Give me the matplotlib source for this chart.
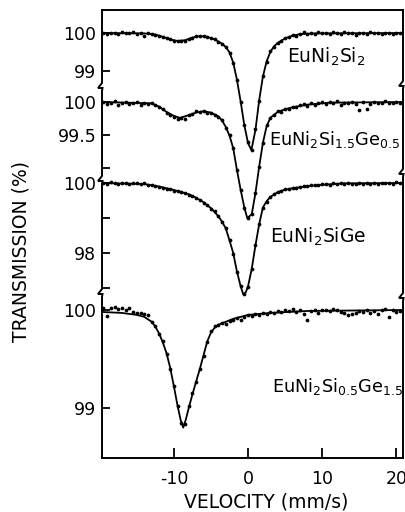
import numpy as np
import matplotlib.pyplot as plt
from matplotlib.transforms import blended_transform_factory

# velocity channels (mm/s) of the measured points
velocity = [-19.5, -19.0, -18.5, -18.0, -17.5, -17.0, -16.5, -16.0, -15.5, -15.0,
            -14.5, -14.0, -13.5, -13.0, -12.5, -12.0, -11.5, -11.0, -10.5, -10.0,
            -9.5, -9.0, -8.5, -8.0, -7.5, -7.0, -6.5, -6.0, -5.5, -5.0,
            -4.5, -4.0, -3.5, -3.0, -2.5, -2.0, -1.5, -1.0, -0.5, 0.0,
            0.5, 1.0, 1.5, 2.0, 2.5, 3.0, 3.5, 4.0, 4.5, 5.0,
            5.5, 6.0, 6.5, 7.0, 7.5, 8.0, 8.5, 9.0, 9.5, 10.0,
            10.5, 11.0, 11.5, 12.0, 12.5, 13.0, 13.5, 14.0, 14.5, 15.0,
            15.5, 16.0, 16.5, 17.0, 17.5, 18.0, 18.5, 19.0, 19.5, 20.0,
            20.5]

# measured transmission (%)
pts_si2 = [100.0, 99.98, 100.01, 100.0, 99.97, 100.02, 100.0, 99.99, 100.03, 99.98,
           100.0, 99.92, 100.0, 99.97, 99.96, 99.93, 99.9, 99.87, 99.83, 99.8,
           99.78, 99.8, 99.79, 99.84, 99.87, 99.91, 99.93, 99.91, 99.9, 99.86,
           99.83, 99.77, 99.72, 99.62, 99.48, 99.2, 98.76, 98.18, 97.58, 97.12,
           96.93, 97.47, 98.22, 98.87, 99.24, 99.52, 99.64, 99.75, 99.8, 99.87,
           99.9, 99.95, 99.93, 99.98, 100.02, 99.97, 100.0, 99.98, 100.03, 99.99,
           100.0, 99.97, 100.02, 100.0, 99.98, 100.03, 99.99, 100.0, 99.96, 100.01,
           100.0, 99.98, 100.02, 99.99, 100.0, 99.97, 100.01, 100.0, 99.98, 99.99,
           100.0]
pts_si15 = [100.0, 99.97, 99.99, 100.01, 99.96, 99.98, 100.0, 99.97, 99.99, 100.0,
            99.96, 99.98, 99.97, 99.99, 99.96, 99.93, 99.9, 99.84, 99.81, 99.77,
            99.74, 99.76, 99.75, 99.8, 99.82, 99.86, 99.85, 99.87, 99.84, 99.83,
            99.8, 99.77, 99.73, 99.6, 99.5, 99.3, 98.97, 98.66, 98.4, 98.24,
            98.3, 98.62, 99.02, 99.38, 99.65, 99.76, 99.8, 99.86, 99.85, 99.89,
            99.9, 99.93, 99.92, 99.95, 99.97, 99.94, 99.98, 99.96, 99.99, 100.0,
            99.97, 100.0, 99.98, 100.01, 99.96, 99.99, 99.98, 100.0, 99.97, 99.88,
            100.0, 99.89, 99.97, 100.0, 99.99, 99.98, 100.01, 99.99, 99.98, 100.0,
            99.99]
pts_sige = [100.0, 99.98, 100.02, 99.99, 99.97, 100.01, 100.0, 99.96, 99.99, 100.0,
            99.98, 100.0, 99.95, 99.93, 99.92, 99.88, 99.87, 99.83, 99.82, 99.78,
            99.78, 99.74, 99.72, 99.67, 99.64, 99.58, 99.52, 99.43, 99.37, 99.27,
            99.19, 99.05, 98.88, 98.7, 98.36, 97.98, 97.45, 97.05, 96.83, 97.03,
            97.55, 98.22, 98.82, 99.3, 99.47, 99.6, 99.68, 99.73, 99.78, 99.82,
            99.84, 99.86, 99.85, 99.88, 99.9, 99.92, 99.93, 99.95, 99.94, 99.96,
            99.97, 99.95, 99.99, 99.97, 100.0, 99.96, 100.01, 99.98, 99.96, 100.0,
            99.98, 100.01, 99.97, 100.0, 99.96, 100.01, 99.99, 100.0, 99.98, 100.02,
            100.01]
pts_ge15 = [100.02, 99.94, 100.02, 100.03, 100.01, 100.02, 100.0, 100.02, 99.98, 99.97,
            99.97, 99.96, 99.95, 99.88, 99.84, 99.76, 99.68, 99.55, 99.4, 99.22,
            99.02, 98.85, 98.84, 99.02, 99.15, 99.27, 99.4, 99.53, 99.67, 99.79,
            99.84, 99.85, 99.87, 99.86, 99.89, 99.9, 99.92, 99.9, 99.93, 99.95,
            99.94, 99.96, 99.95, 99.97, 99.96, 99.98, 99.97, 99.99, 99.98, 100.0,
            99.99, 100.01, 99.98, 100.0, 99.96, 99.9, 99.99, 100.0, 99.97, 100.0,
            100.0, 99.99, 100.01, 100.0, 99.98, 99.97, 99.95, 99.96, 99.97, 99.99,
            99.98, 100.0, 99.97, 99.99, 99.96, 100.0, 100.01, 99.93, 100.0, 99.98,
            99.99]

# fitted curves (velocity, transmission)
fit_v_si2 = [-19.7, -14, -12.5, -11.5, -10.5, -9.5, -8.5, -7.5, -6.5, -5.5, -4.5, -3.5,
             -3, -2.5, -2, -1.5, -1, -0.5, 0, 0.45, 1, 1.5, 2, 2.5, 3, 3.5, 4, 5, 6, 7, 9, 20.9]
fit_t_si2 = [100.0, 99.99, 99.96, 99.9, 99.83, 99.79, 99.81, 99.88, 99.92, 99.9, 99.83, 99.72,
             99.63, 99.49, 99.22, 98.77, 98.2, 97.57, 97.1, 96.92, 97.45, 98.23, 98.85, 99.25,
             99.5, 99.65, 99.74, 99.86, 99.93, 99.97, 99.99, 100.0]
fit_v_si15 = [-19.7, -13, -12, -11, -10, -9.2, -8, -7, -6, -5, -4, -3.5, -3, -2.5, -2, -1.5,
              -1, -0.5, -0.1, 0.5, 1, 1.5, 2, 2.5, 3, 4, 5, 6, 8, 11, 20.9]
fit_t_si15 = [100.0, 99.98, 99.93, 99.85, 99.79, 99.76, 99.8, 99.84, 99.86, 99.84, 99.78, 99.72,
              99.62, 99.49, 99.3, 98.97, 98.67, 98.4, 98.24, 98.3, 98.62, 99.02, 99.38, 99.63,
              99.76, 99.85, 99.89, 99.92, 99.96, 99.99, 100.0]
fit_v_sige = [-19.7, -14, -12, -10, -8, -7, -6, -5, -4, -3.5, -3, -2.5, -2, -1.5, -1, -0.65,
              -0.3, 0, 0.5, 1, 1.5, 2, 2.5, 3, 4, 5, 6, 8, 10, 13, 20.9]
fit_t_sige = [100.0, 99.97, 99.9, 99.8, 99.68, 99.58, 99.45, 99.28, 99.05, 98.89, 98.7, 98.36,
              98.0, 97.47, 97.05, 96.82, 96.88, 97.05, 97.55, 98.22, 98.82, 99.3, 99.48, 99.6,
              99.74, 99.81, 99.85, 99.91, 99.95, 99.99, 100.0]
fit_v_ge15 = [-19.7, -17, -15, -14, -13, -12.5, -12, -11.5, -11, -10.5, -10, -9.5, -9.1, -8.75,
              -8.4, -8, -7.5, -7, -6.5, -6, -5.5, -5, -4.5, -4, -3, -2, 0, 3, 8, 20.9]
fit_t_ge15 = [99.98, 99.97, 99.95, 99.93, 99.88, 99.83, 99.76, 99.67, 99.56, 99.41, 99.22, 99.02,
              98.88, 98.8, 98.88, 99.0, 99.14, 99.27, 99.4, 99.54, 99.68, 99.77, 99.82, 99.85,
              99.88, 99.91, 99.95, 99.97, 99.99, 100.0]

names = ["EuNi$_2$Si$_2$", "EuNi$_2$Si$_{1.5}$Ge$_{0.5}$",
         "EuNi$_2$SiGe", "EuNi$_2$Si$_{0.5}$Ge$_{1.5}$"]
tick_vals = [[100, 99], [100, 99.5, 99], [100, 99, 98, 97], [100, 99]]
tick_text = [["100", "99"], ["100", "99.5", ""], ["100", "", "98", ""], ["100", "99"]]

# stacking frame: where the 100 % line sits and how tall 1 % is
base = [425, 356, 275, 148]
scale = [38, 66, 35, 98]
label_pos = [(5.3, 395), (2.8, 313), (3.0, 215), (3.2, 66)]
label_size = [13.5, 12.8, 13.5, 12.8]
breaks_left = [371, 278, 165]
breaks_right = [373, 285, 161]

def stack(t, i):
    return base[i] + scale[i] * (np.asarray(t) - 100)

fig = plt.figure(figsize=(4.06, 5.12), dpi=100)
ax = fig.add_axes([102 / 406, 54 / 512, 301 / 406, 448 / 512])

pts = [pts_si2, pts_si15, pts_sige, pts_ge15]
fits = [(fit_v_si2, fit_t_si2), (fit_v_si15, fit_t_si15),
        (fit_v_sige, fit_t_sige), (fit_v_ge15, fit_t_ge15)]
for i in range(4):
    ax.plot(fits[i][0], stack(fits[i][1], i), color="k", lw=1.3)
    ax.plot(velocity, stack(pts[i], i), "o", color="k", ms=2.7, mec="none")
    ax.text(label_pos[i][0], label_pos[i][1], names[i], fontsize=label_size[i],
            va="baseline")

ax.set_xlim(-19.7, 20.9)
ax.set_ylim(0, 448)

yt, yl = [], []
for i in range(4):
    yt += list(stack(tick_vals[i], i))
    yl += tick_text[i]
ax.set_yticks(yt)
ax.set_yticklabels(yl)
ax.set_xticks([-10, 0, 10, 20])
ax.set_xticklabels(["-10", "0", "10", "20"])
ax.tick_params(axis="y", direction="in", length=6, width=1.3, labelsize=12.5, pad=4)
ax.tick_params(axis="x", direction="in", length=7, width=1.3, labelsize=12.5, pad=9)

for s in ["top", "bottom"]:
    ax.spines[s].set_linewidth(1.4)
ax.spines["left"].set_visible(False)
ax.spines["right"].set_visible(False)

# left/right frame with the axis-break kinks
px = 1 / 301
trans = blended_transform_factory(ax.transAxes, ax.transData)
for x0, brk in [(0, breaks_left), (1, breaks_right)]:
    xs, ys = [x0], [0]
    for b in sorted(brk):
        xs += [x0, x0 + 0.5 * px, x0 - 4 * px, x0]
        ys += [b - 4, b - 1, b - 1, b + 4]
    xs.append(x0)
    ys.append(448)
    ax.plot(xs, ys, color="k", lw=1.4, transform=trans, clip_on=False,
            solid_joinstyle="miter")

ax.set_xlabel("VELOCITY (mm/s)", fontsize=13.5)
ax.xaxis.set_label_coords(0.545, -0.076)
ax.set_ylabel("TRANSMISSION (%)", fontsize=13.5)
ax.yaxis.set_label_coords(-0.236, 0.462)

fig.savefig("out.png", dpi=100)
